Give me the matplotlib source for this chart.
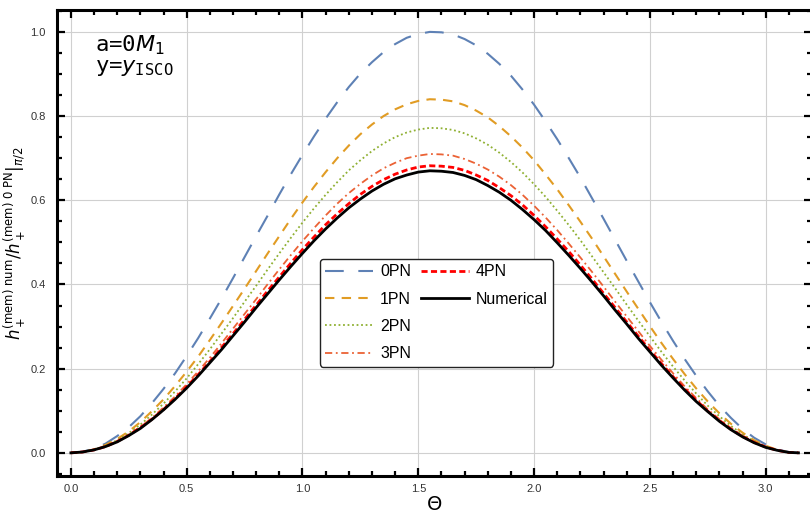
import matplotlib
matplotlib.use("Agg")
import matplotlib.pyplot as plt
from matplotlib.ticker import MultipleLocator, FormatStrFormatter
from matplotlib.lines import Line2D

plt.rcParams["font.family"] = ["Liberation Sans", "DejaVu Sans"]
plt.rcParams["mathtext.fontset"] = "dejavusans"

# Theta sample points: 0.00 .. 3.10 in steps of 0.05, then pi
theta = [0.00, 0.05, 0.10, 0.15, 0.20, 0.25, 0.30, 0.35, 0.40, 0.45,
         0.50, 0.55, 0.60, 0.65, 0.70, 0.75, 0.80, 0.85, 0.90, 0.95,
         1.00, 1.05, 1.10, 1.15, 1.20, 1.25, 1.30, 1.35, 1.40, 1.45,
         1.50, 1.55, 1.60, 1.65, 1.70, 1.75, 1.80, 1.85, 1.90, 1.95,
         2.00, 2.05, 2.10, 2.15, 2.20, 2.25, 2.30, 2.35, 2.40, 2.45,
         2.50, 2.55, 2.60, 2.65, 2.70, 2.75, 2.80, 2.85, 2.90, 2.95,
         3.00, 3.05, 3.10, 3.1416]

pn0 = [0, 0.0025, 0.010, 0.022, 0.040, 0.061, 0.087, 0.118, 0.152, 0.189,
       0.230, 0.273, 0.319, 0.366, 0.415, 0.465, 0.515, 0.564, 0.614, 0.662,
       0.708, 0.752, 0.794, 0.833, 0.869, 0.901, 0.928, 0.952, 0.971, 0.986,
       0.995, 1.000, 0.999, 0.994, 0.983, 0.968, 0.948, 0.924, 0.896, 0.863,
       0.827, 0.787, 0.745, 0.700, 0.654, 0.605, 0.556, 0.506, 0.456, 0.407,
       0.358, 0.311, 0.266, 0.223, 0.183, 0.146, 0.112, 0.083, 0.057, 0.036,
       0.020, 0.008, 0.002, 0]
pn1 = [0, 0.002, 0.008, 0.019, 0.033, 0.051, 0.073, 0.099, 0.127, 0.159,
       0.193, 0.229, 0.268, 0.308, 0.349, 0.390, 0.432, 0.474, 0.515, 0.556,
       0.595, 0.632, 0.667, 0.700, 0.730, 0.757, 0.780, 0.800, 0.816, 0.828,
       0.836, 0.840, 0.839, 0.835, 0.826, 0.813, 0.797, 0.776, 0.752, 0.725,
       0.695, 0.661, 0.626, 0.588, 0.549, 0.509, 0.467, 0.425, 0.383, 0.342,
       0.301, 0.261, 0.223, 0.187, 0.153, 0.122, 0.094, 0.069, 0.048, 0.030,
       0.017, 0.007, 0.001, 0]
pn2 = [0, 0.002, 0.008, 0.017, 0.030, 0.047, 0.067, 0.091, 0.117, 0.146,
       0.177, 0.211, 0.246, 0.283, 0.320, 0.359, 0.397, 0.436, 0.474, 0.511,
       0.547, 0.581, 0.613, 0.643, 0.671, 0.695, 0.717, 0.735, 0.750, 0.761,
       0.768, 0.772, 0.771, 0.767, 0.759, 0.747, 0.732, 0.713, 0.691, 0.666,
       0.638, 0.608, 0.575, 0.541, 0.505, 0.467, 0.429, 0.391, 0.352, 0.314,
       0.277, 0.240, 0.205, 0.172, 0.141, 0.112, 0.087, 0.064, 0.044, 0.028,
       0.015, 0.006, 0.001, 0]
pn3 = [0, 0.002, 0.007, 0.016, 0.028, 0.043, 0.062, 0.083, 0.108, 0.134,
       0.163, 0.194, 0.226, 0.260, 0.295, 0.330, 0.365, 0.401, 0.436, 0.470,
       0.503, 0.534, 0.564, 0.592, 0.617, 0.639, 0.659, 0.676, 0.689, 0.700,
       0.706, 0.710, 0.709, 0.706, 0.698, 0.687, 0.673, 0.656, 0.636, 0.613,
       0.587, 0.559, 0.529, 0.497, 0.464, 0.430, 0.395, 0.359, 0.324, 0.289,
       0.254, 0.221, 0.189, 0.158, 0.130, 0.103, 0.080, 0.059, 0.041, 0.026,
       0.014, 0.006, 0.001, 0]
pn4 = [0, 0.002, 0.007, 0.015, 0.027, 0.042, 0.060, 0.080, 0.103, 0.129,
       0.157, 0.186, 0.217, 0.250, 0.283, 0.317, 0.351, 0.385, 0.418, 0.451,
       0.483, 0.513, 0.542, 0.568, 0.592, 0.614, 0.633, 0.649, 0.662, 0.672,
       0.679, 0.682, 0.681, 0.678, 0.671, 0.660, 0.647, 0.630, 0.611, 0.589,
       0.564, 0.537, 0.508, 0.478, 0.446, 0.413, 0.379, 0.345, 0.311, 0.277,
       0.244, 0.212, 0.181, 0.152, 0.125, 0.099, 0.077, 0.056, 0.039, 0.025,
       0.014, 0.006, 0.001, 0]
numerical = [0, 0.002, 0.007, 0.015, 0.026, 0.041, 0.058, 0.079, 0.102, 0.127,
             0.154, 0.183, 0.214, 0.245, 0.278, 0.311, 0.345, 0.378, 0.411, 0.443,
             0.474, 0.504, 0.532, 0.558, 0.582, 0.603, 0.622, 0.638, 0.651, 0.660,
             0.667, 0.670, 0.669, 0.666, 0.659, 0.649, 0.635, 0.619, 0.600, 0.578,
             0.554, 0.528, 0.499, 0.469, 0.438, 0.406, 0.373, 0.339, 0.306, 0.272,
             0.240, 0.208, 0.178, 0.149, 0.122, 0.098, 0.075, 0.055, 0.038, 0.024,
             0.013, 0.006, 0.001, 0]

W, H = 810, 516
fig = plt.figure(figsize=(W / 100, H / 100), dpi=100)
# axes runs slightly past the right edge, like the cropped original
ax = fig.add_axes([57 / W, (H - 476) / H, 755 / W, 466 / H])

ax.plot(theta, pn0, color="#5E81B5", lw=1.5, dashes=(9, 7), label="0PN")
ax.plot(theta, pn1, color="#E19C24", lw=1.5, dashes=(4.5, 3.5), label="1PN")
ax.plot(theta, pn2, color="#8FB032", lw=1.3, dashes=(1, 1.5), label="2PN")
ax.plot(theta, pn3, color="#EB6235", lw=1.3, dashes=(4, 2, 1, 2), label="3PN")
ax.plot(theta, pn4, color="#FF0000", lw=2.0, dashes=(2.2, 1.2), label="4PN")
ax.plot(theta, numerical, color="black", lw=2.0, label="Numerical")

ax.set_xlim(-0.06, 3.2)
ax.set_ylim(-0.055, 1.052)
ax.xaxis.set_major_locator(MultipleLocator(0.5))
ax.xaxis.set_minor_locator(MultipleLocator(0.1))
ax.yaxis.set_major_locator(MultipleLocator(0.2))
ax.yaxis.set_minor_locator(MultipleLocator(0.05))
ax.xaxis.set_major_formatter(FormatStrFormatter("%.1f"))
ax.yaxis.set_major_formatter(FormatStrFormatter("%.1f"))
ax.grid(True, which="major", color="#d0d0d0", lw=0.8)
ax.set_axisbelow(True)
ax.tick_params(which="both", direction="in", top=True, right=True,
               labelsize=8, labelcolor="#333333", width=1.6)
ax.tick_params(axis="x", pad=6)
ax.tick_params(axis="y", pad=8)
ax.tick_params(which="major", length=6)
ax.tick_params(which="minor", length=3.5)
for s in ax.spines.values():
    s.set_linewidth(2.2)

ax.set_xlabel(r"$\Theta$", fontsize=14, labelpad=1)
ax.set_ylabel(r"$h_+^{\rm (mem)\ num}/h_+^{\rm (mem)\ 0\ PN}|_{\pi/2}$",
              fontsize=12, labelpad=2)

fig.text(95 / W, 1 - 45 / H, r"a=0$M_1$", family="DejaVu Sans Mono",
         fontsize=16, va="center")
fig.text(95 / W, 1 - 68 / H, r"y=$y_\mathtt{ISCO}$", family="DejaVu Sans Mono",
         fontsize=16, va="center")

handles, labels = ax.get_legend_handles_labels()
blank = Line2D([], [], color="none")
handles = handles + [blank, blank]
labels = labels + ["", ""]
leg = ax.legend(handles, labels, ncol=2, loc="upper left",
                bbox_to_anchor=(320 / W, 1 - 259 / H),
                bbox_transform=fig.transFigure, borderaxespad=0,
                fontsize=11.5, handlelength=3.0, columnspacing=0.6,
                handletextpad=0.45, labelspacing=0.78, borderpad=0.32,
                fancybox=True, edgecolor="#222222", framealpha=1)
leg.get_frame().set_linewidth(1.0)

fig.savefig("out.png", dpi=100)
